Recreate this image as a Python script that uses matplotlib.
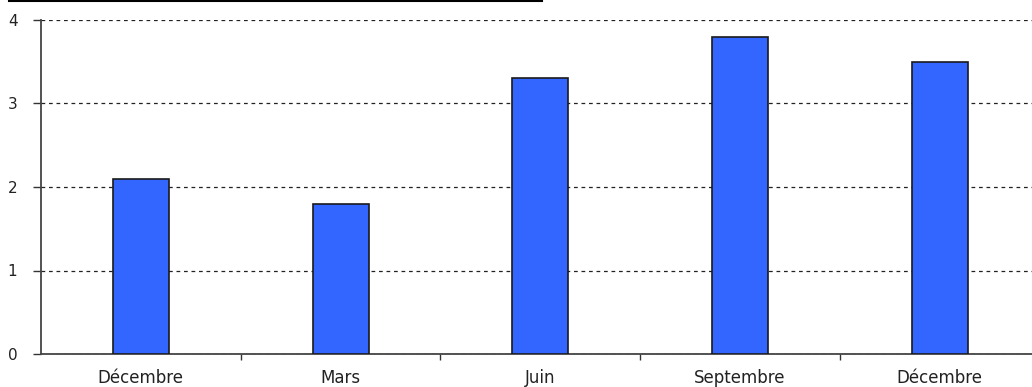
import matplotlib
matplotlib.use("Agg")
import matplotlib.pyplot as plt
from matplotlib.lines import Line2D

categories = ["Décembre", "Mars", "Juin", "Septembre", "Décembre"]
values = [2.1, 1.8, 3.3, 3.8, 3.5]
yticks = [0, 1, 2, 3, 4]

plt.rcParams['font.family'] = ['DejaVu Sans']

W, H = 1032, 387
fig = plt.figure(figsize=(W / 100, H / 100), dpi=100)
ax = fig.add_axes([41 / W, 33 / H, (5 * 199.7) / W, 334 / H])

x = list(range(len(categories)))
ax.bar(x, values, width=0.28, color="#3366ff", edgecolor="#1a1a1a",
       linewidth=1.2, zorder=3)

ax.set_xlim(-0.5, len(categories) - 0.5)
ax.set_ylim(0, 4)
ax.set_yticks(yticks)
ax.set_yticklabels([str(t) for t in yticks], fontsize=11, color="#222222")
ax.yaxis.grid(True, linestyle=(0, (3, 3)), color="#222222", linewidth=0.9, zorder=1)

# category labels centred, ticks on category boundaries
ax.set_xticks(x)
ax.set_xticklabels(categories, fontsize=12, color="#222222")
ax.tick_params(axis="x", length=0, pad=11)
ax.set_xticks([i + 0.5 for i in range(len(categories) - 1)], minor=True)
ax.tick_params(axis="x", which="minor", length=4, width=1, color="#333333", direction="out")
ax.tick_params(axis="y", length=6, width=1, color="#333333", direction="out", pad=11)

for side in ("top", "right"):
    ax.spines[side].set_visible(False)
for side in ("left", "bottom"):
    ax.spines[side].set_color("#444444")
    ax.spines[side].set_linewidth(1.3)

# rule along the top edge
fig.add_artist(Line2D([9 / W, 542 / W], [1 - 0.8 / H, 1 - 0.8 / H],
                      transform=fig.transFigure, color="black", linewidth=1.5))

fig.savefig("out.png", dpi=100)
